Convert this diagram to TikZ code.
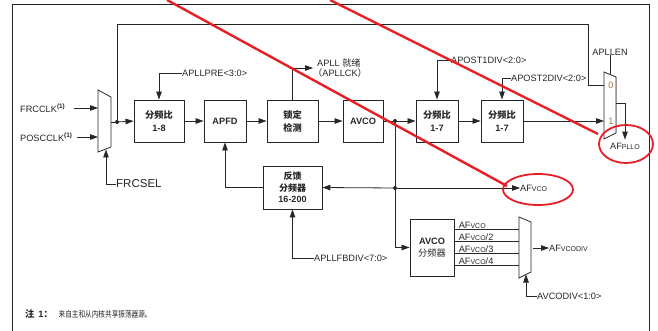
\documentclass[tikz,border=0pt]{standalone}
\usepackage{fontspec}
\setmainfont{Liberation Sans}
\newfontfamily\cjk{Noto Sans CJK SC}
\newfontfamily\cjknarrow{Noto Sans CJK SC}[FakeStretch=0.78]
\usetikzlibrary{arrows.meta}
\newcommand\smallcap[1]{{\fontsize{7}{7}\selectfont #1}}
\definecolor{inkc}{rgb}{0.15,0.15,0.15}
\definecolor{markred}{RGB}{232,30,36}
\definecolor{digitc}{RGB}{170,120,70}
\begin{document}
\begin{tikzpicture}[x=1pt,y=-1pt,
  line/.style={line width=0.8pt, draw=inkc},
  arr/.style={line, -{Triangle[length=8pt,width=5.5pt]}},
  box/.style={draw=inkc, line width=0.9pt, align=center, inner sep=0pt, text=inkc,
    font=\fontsize{9.2}{13}\selectfont\bfseries},
  lbl/.style={inner sep=0pt, text=inkc, font=\fontsize{9.2}{10.5}\selectfont},
  jdot/.style={circle, fill=inkc, inner sep=0pt, minimum size=4pt},
  muxshape/.style={line, fill=white},
  redline/.style={draw=markred, line width=2.4pt},
  redring/.style={draw=markred, line width=1.8pt}
]
\useasboundingbox (0,0) rectangle (658,331);

% frame
\draw[line] (12,331) -- (12,4) -- (649,4) -- (649,331);

% boxes
\node[box, minimum width=50pt, minimum height=42pt] (div1) at (159,121) {{\cjk\bfseries 分频比}\\1-8};
\node[box, minimum width=42pt, minimum height=42pt] (apfd) at (225,121) {APFD};
\node[box, minimum width=51pt, minimum height=42pt] (lock) at (292.5,121) {{\cjk\bfseries 锁定}\\{\cjk\bfseries 检测}};
\node[box, minimum width=40pt, minimum height=42pt] (avco) at (363,121) {AVCO};
\node[box, minimum width=42pt, minimum height=42pt] (div2) at (437,121) {{\cjk\bfseries 分频比}\\1-7};
\node[box, minimum width=42pt, minimum height=42pt] (div3) at (502,121) {{\cjk\bfseries 分频比}\\1-7};
\node[box, minimum width=59pt, minimum height=43pt, font=\fontsize{9}{11.5}\selectfont\bfseries] (fb) at (292.5,187.5) {{\cjk\bfseries 反馈}\\{\cjk\bfseries 分频器}\\16-200};
\node[box, minimum width=44pt, minimum height=57pt, font=\fontsize{9.2}{12}\selectfont\bfseries] (avcodiv) at (432,247.5) {AVCO\\{\cjk\mdseries 分频器}};

% muxes
\draw[muxshape] (98,90) -- (111,97) -- (111,147) -- (98,152) -- cycle;
\draw[muxshape] (604,72) -- (616,77) -- (616,133) -- (604,139) -- cycle;
\draw[line, draw=black!40] (616,77) -- (616,133);
\draw[muxshape] (519,217) -- (531,222) -- (531,272) -- (519,278) -- cycle;

\coordinate (m1a) at (98,108);
\coordinate (m1b) at (98,137);
\coordinate (m1s) at (106,149.5);
\coordinate (m1o) at (111,122);
\coordinate (m2a) at (604,85);
\coordinate (m2b) at (604,121);
\coordinate (m2s) at (610,74.5);
\coordinate (m2o) at (616,103);
\coordinate (loopa) at (117,24);
\coordinate (loopb) at (588,24);
\coordinate (m3i1) at (519,229);
\coordinate (m3i2) at (519,241);
\coordinate (m3i3) at (519,253);
\coordinate (m3i4) at (519,265);
\coordinate (m3o) at (533,248);
\coordinate (m3s) at (526,274.5);

\node[jdot] (dot1) at (117,122) {};
\node[jdot] (dot2) at (395,121) {};
\node[jdot] (dot3) at (395,188) {};

% labels
\node[lbl, anchor=west] (frc) at (20,108) {FRCCLK\textsuperscript{\bfseries(1)}};
\node[lbl, anchor=west] (pos) at (20,137) {POSCCLK\textsuperscript{\bfseries(1)}};
\node[lbl, anchor=west, font=\fontsize{11.5}{12}\selectfont] (frcsel) at (116,184) {FRCSEL};
\node[lbl, anchor=west] (pre) at (182,73) {APLLPRE<3:0>};
\node[lbl, anchor=west, align=left, font=\fontsize{9.2}{10}\selectfont] (rdy) at (313,68) {\hspace{4pt}APLL {\cjk 就绪}\\{\cjk （}APLLCK{\cjk ）}};
\node[lbl, anchor=west] (post1) at (451,60) {APOST1DIV<2:0>};
\node[lbl, anchor=west] (post2) at (511,78) {APOST2DIV<2:0>};
\node[lbl] (apllen) at (610,52) {APLLEN};
\node[lbl, text=digitc] (in0) at (611,85) {0};
\node[lbl, text=digitc] (in1) at (611,121) {1};
\node[lbl] (afpllo) at (625,146) {AF\smallcap{PLLO}};
\node[lbl, anchor=west] (afvco) at (520,188) {AF\smallcap{VCO}};
\node[lbl, anchor=west] (fbdiv) at (314,258) {APLLFBDIV<7:0>};
\node[lbl, anchor=south west, inner sep=0.6pt] (o1) at (458,229) {AF\smallcap{VCO}};
\node[lbl, anchor=south west, inner sep=0.6pt] (o2) at (458,241) {AF\smallcap{VCO}/2};
\node[lbl, anchor=south west, inner sep=0.6pt] (o3) at (458,253) {AF\smallcap{VCO}/3};
\node[lbl, anchor=south west, inner sep=0.6pt] (o4) at (458,265) {AF\smallcap{VCO}/4};
\node[lbl, anchor=west] (afvcodiv) at (549,248) {AF\smallcap{VCODIV}};
\node[lbl, anchor=west] (avcosel) at (537,296) {AVCODIV<1:0>};
\node[lbl, anchor=west] (note) at (25,314) {{\cjk\bfseries 注}\hspace{4pt}\textbf{1}{\cjk\bfseries ：}\hspace{6pt}{\fontsize{8.5}{10}\cjknarrow 来自主和从内核共享振荡器源。}};

% connectors
\draw[arr, shorten <=8pt] (frc.east) -- (m1a);
\draw[arr, shorten <=4pt] (pos.east) -- (m1b);
\draw[arr] (frcsel.west) -| (m1s);
\draw[line] (m1o) -- (dot1);
\draw[arr] (dot1) -- (div1.west);
\draw[line] (dot1) -- (loopa) -- (loopb) |- (m2a);
\draw[arr] (pre.west) -| (div1.north);
\draw[arr] (div1) -- (apfd);
\draw[arr] (apfd) -- (lock);
\draw[arr] (lock) -- (avco);
\draw[arr] (lock.north) |- (rdy.west);
\draw[line] (avco) -- (dot2);
\draw[arr] (dot2) -- (div2);
\draw[arr] (post1.west) -| (div2.north);
\draw[arr] (post2.west) -| (div3.north);
\draw[arr] (div2) -- (div3);
\draw[arr] (div3) -- (m2b);
\draw[line] (apllen.south) -- (m2s);
\draw[arr, shorten >=3pt] (m2o) -| (afpllo.north);
\draw[line] (dot2) -- (dot3);
\draw[arr] (dot3) |- (avcodiv.west);
\draw[arr] (dot3) -- (afvco.west);
\draw[arr] (dot3) -- (fb.east);
\draw[arr] (fb.west) -| (apfd.south);
\draw[arr] (fbdiv.west) -| (fb.south);
\draw[line] (m3i1 -| avcodiv.east) -- (m3i1);
\draw[line] (m3i2 -| avcodiv.east) -- (m3i2);
\draw[line] (m3i3 -| avcodiv.east) -- (m3i3);
\draw[line] (m3i4 -| avcodiv.east) -- (m3i4);
\draw[arr] (m3o) -- (afvcodiv.west);
\draw[arr] (avcosel.west) -| (m3s);

% red annotations
\draw[redline] (167,0) -- (507,186);
\draw[redline] (330,0) -- (598,134);
\draw[redring] (626,144) ellipse [x radius=27pt, y radius=19pt];
\draw[redring] (538,189.5) ellipse [x radius=35pt, y radius=15.5pt];
\end{tikzpicture}
\end{document}
